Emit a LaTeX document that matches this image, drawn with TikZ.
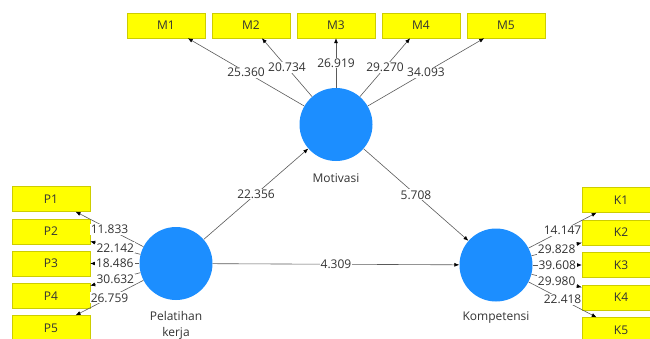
\documentclass[tikz,border=0pt]{standalone}
\usepackage{fontspec}
\setmainfont{Open Sans}
\usetikzlibrary{arrows.meta,positioning}
\definecolor{latentblue}{RGB}{28,142,255}
\definecolor{indyellow}{RGB}{255,255,0}
\definecolor{indborder}{RGB}{205,205,0}
\definecolor{pathgray}{RGB}{90,90,90}
\definecolor{valtext}{RGB}{51,51,51}

\begin{document}
\begin{tikzpicture}[x=1pt,y=-1pt,on grid,
    font=\fontsize{12}{16}\selectfont,
    latent/.style={circle,fill=latentblue,minimum size=73pt,inner sep=0pt},
    indicator/.style={rectangle,fill=indyellow,draw=indborder,line width=0.4pt,
      minimum width=78pt,minimum height=25pt,text=valtext},
    varname/.style={text=valtext,align=center},
    val/.style={fill=white,inner sep=1pt,text=valtext},
    >={Latex[length=5pt,width=4pt,color=black]}]
  \useasboundingbox (0,0) rectangle (650,338);
  \clip (0,0) rectangle (650,338);

  % latent variables
  \node[latent] (mot) at (336,124.5) {};
  \node[latent] (pel) at (176,263.5) {};
  \node[latent] (kom) at (496,265) {};
  \node[varname] (motname) [below=53.5pt of mot] {Motivasi};
  \node[varname] (pelname) [below=61.5pt of pel] {Pelatihan\\kerja};
  \node[varname] (komname) [below=53pt of kom] {Kompetensi};

  % indicators
  \node[indicator] (M3) at (336,25.5) {M3};
  \node[indicator] (M2) [left=85pt of M3] {M2};
  \node[indicator] (M1) [left=85pt of M2] {M1};
  \node[indicator] (M4) [right=85pt of M3] {M4};
  \node[indicator] (M5) [right=85pt of M4] {M5};

  \node[indicator] (P1) at (51,199) {P1};
  \node[indicator] (P2) [below=32.25pt of P1] {P2};
  \node[indicator] (P3) [below=32.25pt of P2] {P3};
  \node[indicator] (P4) [below=32.25pt of P3] {P4};
  \node[indicator] (P5) [below=32.25pt of P4] {P5};

  \node[indicator] (K1) at (621,200) {K1};
  \node[indicator] (K2) [below=32.5pt of K1] {K2};
  \node[indicator] (K3) [below=32.5pt of K2] {K3};
  \node[indicator] (K4) [below=32.5pt of K3] {K4};
  \node[indicator] (K5) [below=32.5pt of K4] {K5};

  % outer model
  \path[->,draw=pathgray,line width=0.6pt]
    (mot) edge node[val] {25.360} (M1)
          edge node[val] {20.734} (M2)
          edge node[val] {26.919} (M3)
          edge node[val] {29.270} (M4)
          edge node[val] {34.093} (M5)
    (pel) edge node[val] {11.833} (P1)
          edge node[val] {22.142} (P2)
          edge node[val] {18.486} (P3)
          edge node[val] {30.632} (P4)
          edge node[val] {26.759} (P5)
    (kom) edge node[val] {14.147} (K1)
          edge node[val] {29.828} (K2)
          edge node[val] {39.608} (K3)
          edge node[val] {29.980} (K4)
          edge node[val] {22.418} (K5);

  % inner model
  \path[->,draw=pathgray,line width=0.6pt]
    (pel) edge node[val] {22.356} (mot)
          edge node[val] {4.309} (kom)
    (mot) edge node[val] {5.708} (kom);
\end{tikzpicture}
\end{document}
